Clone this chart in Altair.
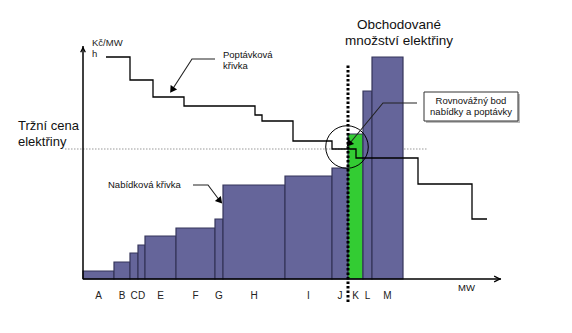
import altair as alt
import pandas as pd
import numpy as np

FONT = "Liberation Sans"

plants = ["A", "B", "C", "D", "E", "F", "G", "H", "I", "J", "K", "L", "M"]
capacity = [31, 16, 8, 7, 31, 39, 8, 62, 47, 16, 15, 9, 31]
price = [8, 17, 26, 34, 43, 51, 60, 94, 103, 111, 145, 188, 222]
marginal = "K"

demand_x = [23, 47, 70, 101, 172, 179, 210, 249, 273, 335, 389, 404]
demand_p = [222, 199, 182, 173, 164, 158, 138, 130, 121, 95, 60, 60]

market_price = 130
equilibrium_q = 265

ends = np.cumsum(capacity)
starts = ends - np.array(capacity)
bars = pd.DataFrame({
    "plant": plants, "x0": starts.tolist(), "x1": ends.tolist(), "p": price,
    "zero": [0] * len(plants),
    "mid": ((starts + ends) / 2).tolist(),
    "lab": [-17] * len(plants),
    "col": ["green" if p == marginal else "blue" for p in plants],
})

XS = alt.Scale(domain=[-83, 489], nice=False, zero=False)
YS = alt.Scale(domain=[-54, 279], nice=False, zero=False)
ax = dict(axis=None, scale=XS)
ay = dict(axis=None, scale=YS)

bar = alt.Chart(bars).mark_rect(stroke="#35355a", strokeWidth=1.2).encode(
    x=alt.X("x0:Q", **ax), x2="x1:Q",
    y=alt.Y("p:Q", **ay), y2="zero:Q",
    fill=alt.Color("col:N", scale=alt.Scale(domain=["blue", "green"], range=["#65659a", "#33cc33"]), legend=None),
)

labels = alt.Chart(bars).mark_text(font=FONT, fontSize=10, color="#222").encode(
    x=alt.X("mid:Q", **ax), y=alt.Y("lab:Q", **ay), text="plant:N"
)

dem = pd.DataFrame({"x": demand_x, "p": demand_p})
demand = alt.Chart(dem).mark_line(interpolate="step-after", color="black", strokeWidth=1.3).encode(
    x=alt.X("x:Q", **ax), y=alt.Y("p:Q", **ay)
)

price_line = alt.Chart(pd.DataFrame({"a": [-18], "b": [345], "p": [market_price]})).mark_rule(
    color="#999", strokeDash=[1.5, 1.5], strokeWidth=1.2
).encode(x=alt.X("a:Q", **ax), x2="b:Q", y=alt.Y("p:Q", **ay))

q_line = alt.Chart(pd.DataFrame({"q": [equilibrium_q], "a": [-23], "b": [215]})).mark_rule(
    color="black", strokeDash=[2.5, 2], strokeWidth=3
).encode(x=alt.X("q:Q", **ax), y=alt.Y("a:Q", **ay), y2="b:Q")

circle = alt.Chart(pd.DataFrame({"q": [264], "p": [132]})).mark_point(
    shape="circle", size=1810, filled=False, color="black", strokeWidth=1, opacity=1
).encode(x=alt.X("q:Q", **ax), y=alt.Y("p:Q", **ay))

# Axes (two rules)
y_axis = alt.Chart(pd.DataFrame({"x": [0], "a": [0], "b": [233]})).mark_rule(
    color="black", strokeWidth=1.5
).encode(x=alt.X("x:Q", **ax), y=alt.Y("a:Q", **ay), y2="b:Q")
x_axis = alt.Chart(pd.DataFrame({"y": [0], "a": [0], "b": [418]})).mark_rule(
    color="black", strokeWidth=1.5
).encode(y=alt.Y("y:Q", **ay), x=alt.X("a:Q", **ax), x2="b:Q")

arrow_up = alt.Chart(pd.DataFrame({"x": [0], "y": [229]})).mark_point(
    shape="M-0.6,0.6L0,-0.6L0.6,0.6", size=60, filled=False, color="black", strokeWidth=1.3, opacity=1
).encode(x=alt.X("x:Q", **ax), y=alt.Y("y:Q", **ay))
arrow_right = alt.Chart(pd.DataFrame({"x": [414], "y": [0]})).mark_point(
    shape="M-0.6,-0.6L0.6,0L-0.6,0.6", size=90, filled=False, color="black", strokeWidth=1.3, opacity=1
).encode(x=alt.X("x:Q", **ax), y=alt.Y("y:Q", **ay))

# Annotation leader lines
ann = pd.DataFrame({
    "g": ["a"] * 3 + ["b"] * 3 + ["c"] * 3,
    "o": [0, 1, 2] * 3,
    "x": [132, 109, 89, 334, 300, 267, 110, 125, 137],
    "p": [220, 220, 189, 176, 176, 136, 94, 94, 78],
})
lead = alt.Chart(ann).mark_line(color="#222", strokeWidth=1.1).encode(
    x=alt.X("x:Q", **ax), y=alt.Y("p:Q", **ay), detail="g:N", order="o:Q"
)


def head(x, p, ang):
    return alt.Chart(pd.DataFrame({"x": [x], "p": [p]})).mark_point(
        shape="triangle-up", size=60, filled=True, color="black", opacity=1, angle=ang
    ).encode(x=alt.X("x:Q", **ax), y=alt.Y("p:Q", **ay))


heads = [head(89, 189, 214), head(266, 135, 220), head(137, 78, 140)]

# Box
box = alt.Chart(pd.DataFrame({"a": [341], "b": [435], "c": [187], "d": [158]})).mark_rect(
    fill="white", stroke="#333", strokeWidth=1
).encode(x=alt.X("a:Q", **ax), x2="b:Q", y=alt.Y("c:Q", **ay), y2="d:Q")
box_shadow = alt.Chart(pd.DataFrame({"a": [343], "b": [437], "c": [185], "d": [156]})).mark_rect(
    fill="#bbb"
).encode(x=alt.X("a:Q", **ax), x2="b:Q", y=alt.Y("c:Q", **ay), y2="d:Q")


def txt(x, p, lines, size, align="left", color="#111"):
    n = len(lines)
    step = size * 1.2
    ps = [p - i * step for i in range(n)]
    return alt.Chart(pd.DataFrame({"x": [x] * n, "p": ps, "t": lines})).mark_text(
        font=FONT, fontSize=size, align=align, baseline="middle", color=color
    ).encode(x=alt.X("x:Q", **ax), y=alt.Y("p:Q", **ay), text="t:N")


texts = [
    txt(9, 236, ["Kč/MW", "h"], 9.5, color="#222"),
    txt(140, 224, ["Poptávková", "křivka"], 9.5),
    txt(-65, 153, ["Tržní cena", "elektřiny"], 13),
    txt(316, 254, ["Obchodované", "množství elektřiny"], 13.5, align="center"),
    txt(388, 178, ["Rovnovážný bod", "nabídky a poptávky"], 9.5, align="center"),
    txt(25, 94, ["Nabídková křivka"], 9.5),
    txt(375, -9, ["MW"], 9.5),
]

chart = alt.layer(
    price_line, bar, q_line, demand, circle, y_axis, x_axis, arrow_up, arrow_right,
    lead, *heads, box_shadow, box, labels, *texts
).properties(
    width=572, height=333, padding=0, autosize=alt.AutoSizeParams(type="none")
).configure_view(strokeWidth=0)

chart.save("out.html", embed_options={"renderer": "svg", "actions": False})
